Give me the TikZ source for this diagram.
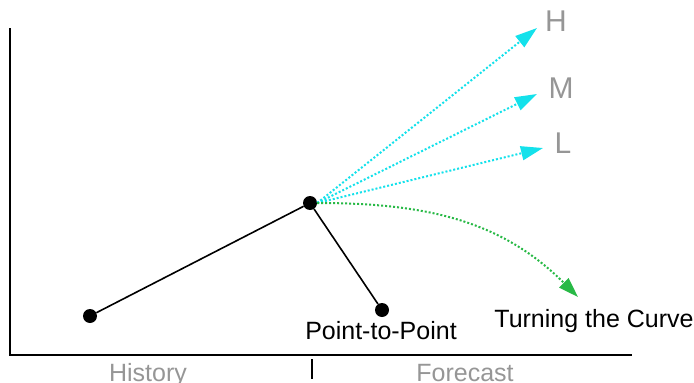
\documentclass[tikz,border=0pt]{standalone}
\usepackage{fontspec}
\setmainfont{Liberation Sans}
\usetikzlibrary{arrows.meta, positioning}

\definecolor{fcyan}{RGB}{20,225,235}
\definecolor{fgreen}{RGB}{40,185,70}
\definecolor{fgray}{RGB}{150,150,150}

\begin{document}
\begin{tikzpicture}[
    x=1pt, y=-1pt,
    dot/.style = {circle, fill=black, inner sep=0pt, minimum size=14pt},
    axis/.style = {line width=1.6pt},
    link/.style = {line width=1.6pt},
    scenario/.style = {fcyan, dotted, line width=2pt, -{Triangle[length=22pt, width=14pt]}},
    turn/.style = {fgreen, dotted, line width=2pt, -{Triangle[length=20pt, width=13pt]}},
    caption/.style = {font=\fontsize{25}{25}\selectfont, inner sep=0pt, anchor=base},
    period/.style = {caption, text=fgray},
    level/.style = {font=\fontsize{30}{30}\selectfont, text=fgray, inner sep=0pt, anchor=base}]

\useasboundingbox (0,0) rectangle (694,383);

  % axes
  \coordinate (O) at (10,355);
  \coordinate (Ytop) at (10,28);
  \coordinate (Xend) at (632,355);
  \draw[axis] (Ytop) -- (O) -- (Xend);
  \coordinate (tickA) at (312,359);
  \coordinate (tickB) at (312,379);
  \draw[axis] (tickA) -- (tickB);
  \node[period] (hist) at (148,381) {History};
  \node[period] (fore) at (465,381) {Forecast};

  % points
  \node[dot] (A) at (90,316) {};
  \node[dot] (B) at (310,203) {};
  \node[dot] (C) at (382,310) {};
  \draw[link] (A) -- (B);
  \draw[link] (B) -- (C);
  \node[caption] (ptp) at (381,339) {Point-to-Point};

  % scenarios
  \coordinate (hTip) at (537,28);
  \coordinate (mTip) at (537,94);
  \coordinate (lTip) at (543,148);
  \coordinate (tTip) at (578,297);
  \draw[scenario] (B.east) -- (hTip);
  \draw[scenario] (B.east) -- (mTip);
  \draw[scenario] (B.east) -- (lTip);
  \draw[turn] (B.east) to[out=0, in=135] (tTip);
  \node[level] (H) at (556,31) {H};
  \node[level] (M) at (561,98) {M};
  \node[level] (L) at (563,153) {L};
  \node[caption] (turning) at (594,327) {Turning the Curve};
\end{tikzpicture}
\end{document}
